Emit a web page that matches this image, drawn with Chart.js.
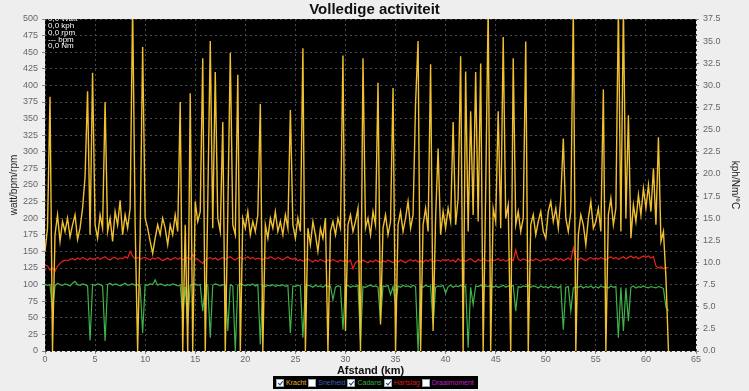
<!DOCTYPE html>
<html>
<head>
<meta charset="utf-8">
<script src="https://cdn.jsdelivr.net/npm/chart.js@4.4.1/dist/chart.umd.min.js"></script>
<style>
  html, body { margin:0; padding:0; background:#eeeeee; }
  #wrap { position:relative; width:749px; height:391px; }
  #legend {
    position:absolute; left:273px; top:376px; height:13px; width:205px; box-sizing:border-box;
    background:#000; display:flex; align-items:center; padding:0 1px;
    font-family:"Liberation Sans", Arial, sans-serif; font-size:7px; white-space:nowrap; overflow:hidden;
  }
  #legend .box {
    display:inline-block; width:8px; height:8px; background:#fff; margin:0 2px 0 2px;
    position:relative; box-sizing:border-box; border:1px solid #9aa; flex:none;
  }
  #legend .box.on::after {
    content:''; position:absolute; left:2px; top:0px; width:2px; height:4px;
    border:solid #1c3f9a; border-width:0 1.5px 1.5px 0; transform:rotate(40deg);
  }
</style>
</head>
<body>
<div id="wrap">
  <canvas id="chart" width="749" height="391"></canvas>
  <div id="legend">
    <span class="box on"></span><span style="color:#e8b030">Kracht</span>
    <span class="box"></span><span style="color:#3a64b8">Snelheid</span>
    <span class="box on"></span><span style="color:#3cb043">Cadans</span>
    <span class="box on"></span><span style="color:#d81e1e">Hartslag</span>
    <span class="box"></span><span style="color:#c020c8">Draaimoment</span>
  </div>
</div>
<script>
// ---------------------------------------------------------------
// Samples every 0.25 km. Values in watt / bpm / rpm.
// ---------------------------------------------------------------
const sampleStepKm = 0.25;

const powerWatt = [
  150,185,383,0,175,205,165,195,180,200,172,190,205,168,185,215,262,391,175,419,
  190,170,205,185,375,180,200,165,210,190,227,175,205,185,215,520,190,0,175,458,
  200,185,165,147,170,190,175,200,185,160,190,175,205,180,375,0,190,0,388,0,
  225,195,210,441,0,220,467,185,420,200,180,345,0,205,449,190,175,416,0,200,
  185,210,175,195,180,205,372,0,190,170,200,185,210,180,195,175,205,185,363,190,
  170,200,180,456,0,185,160,195,175,150,185,170,200,0,180,195,175,200,185,445,
  30,190,205,180,195,215,0,441,185,200,175,210,190,404,40,185,205,175,195,396,
  0,190,210,180,200,225,185,205,373,467,0,190,215,180,432,30,200,305,175,210,
  185,215,195,345,190,230,444,0,421,180,361,205,420,195,433,0,240,520,0,215,
  195,361,185,473,200,220,0,441,190,210,180,200,466,0,190,205,175,195,210,180,
  170,210,225,195,215,185,230,320,200,180,210,520,0,175,205,190,160,200,225,185,
  195,215,180,394,0,205,230,190,215,520,180,520,200,355,170,220,195,235,205,245,
  215,250,210,275,190,322,165,180,110,0
];

const heartBpm = [
  130,128,122,125,120,128,132,135,137,136,138,139,137,140,138,141,139,137,140,138,
  139,141,138,140,142,139,137,140,141,138,140,139,142,140,150,143,139,141,138,140,
  141,139,137,140,138,141,139,136,138,140,137,139,141,138,140,137,139,141,138,145,
  140,138,135,132,137,139,141,138,140,137,139,141,138,140,142,139,137,140,141,138,
  140,142,139,141,138,140,139,137,141,139,142,140,138,141,139,137,140,142,139,138,
  140,136,138,135,137,139,136,134,137,135,138,136,134,137,135,138,136,134,137,135,
  136,134,137,124,133,136,134,137,135,133,136,134,137,135,133,136,134,137,135,133,
  136,134,137,135,133,136,138,135,137,134,136,133,137,135,138,134,136,137,135,138,
  136,138,135,137,134,139,136,138,135,137,139,136,134,138,136,139,137,135,138,136,
  137,139,136,138,135,137,139,136,152,138,136,139,137,135,138,136,139,137,135,138,
  137,139,136,138,140,137,139,136,138,140,137,155,139,137,140,138,136,139,141,138,
  140,138,141,139,137,140,142,139,141,138,140,142,139,141,143,140,142,139,141,143,
  141,143,140,142,128,125,127,124,126,125
];

const cadenceRpm = [
  101,99,100,62,98,102,100,99,101,100,98,102,105,100,99,101,100,98,16,100,
  99,101,100,98,15,100,102,99,101,100,98,100,102,99,100,101,99,100,98,27,
  100,99,101,100,107,99,101,100,98,100,99,101,100,98,100,55,97,40,99,100,
  101,99,100,60,98,100,20,99,101,100,98,100,99,30,100,98,0,99,101,100,
  98,100,99,101,98,100,10,99,97,99,98,100,97,99,98,100,97,99,27,98,
  97,99,98,20,97,99,98,96,99,97,98,96,99,97,98,77,96,98,97,32,
  97,99,96,98,97,99,15,97,96,98,99,97,98,96,45,98,97,99,85,97,
  70,98,96,99,97,98,96,99,97,0,98,96,99,97,98,40,96,98,97,99,
  87,97,99,96,98,97,99,96,98,5,96,70,98,97,99,96,98,97,99,96,
  98,96,97,99,96,98,97,99,60,97,96,98,97,99,96,98,97,95,98,96,
  97,95,98,96,97,95,98,32,96,97,60,95,97,96,98,95,97,96,98,95,
  97,95,98,96,97,95,98,96,97,20,96,30,95,45,96,98,95,97,96,98,
  96,95,97,96,95,97,96,94,66,60
];

const readoutLines = ['0,0 Watt', '0,0 kph', '0,0 rpm', '--- bpm', '0,0 Nm'];

// ---------------------------------------------------------------
const FONT = '"Liberation Sans", Arial, sans-serif';
const toPoints = vals => vals.map((v, i) => ({ x: i * sampleStepKm, y: v }));

const plotBackground = {
  id: 'plotBackground',
  beforeDraw(chart) {
    const { ctx, chartArea: a } = chart;
    ctx.save();
    ctx.fillStyle = '#000';
    ctx.fillRect(a.left, a.top, a.right - a.left, a.bottom - a.top);
    ctx.restore();
  }
};

const readout = {
  id: 'readout',
  afterDatasetsDraw(chart) {
    const { ctx, chartArea: a } = chart;
    ctx.save();
    ctx.beginPath();
    ctx.rect(a.left, a.top, a.right - a.left, a.bottom - a.top);
    ctx.clip();
    ctx.fillStyle = '#fff';
    ctx.font = '8px ' + FONT;
    ctx.textBaseline = 'middle';
    readoutLines.forEach((t, i) => ctx.fillText(t, a.left + 3, a.top + i * 6.8));
    ctx.restore();
  }
};

const tickFont = { family: FONT, size: 9 };
const gridStyle = { color: '#4a4a4a', lineWidth: 1, tickLength: 3, tickColor: '#888' };

new Chart(document.getElementById('chart'), {
  type: 'line',
  data: {
    datasets: [
      { label: 'Kracht', data: toPoints(powerWatt), borderColor: '#f0c030', borderWidth: 1.4, pointRadius: 0, tension: 0, yAxisID: 'y' },
      { label: 'Hartslag', data: toPoints(heartBpm), borderColor: '#e8231c', borderWidth: 1.2, pointRadius: 0, tension: 0, yAxisID: 'y' },
      { label: 'Cadans', data: toPoints(cadenceRpm), borderColor: '#3db34a', borderWidth: 1.2, pointRadius: 0, tension: 0, yAxisID: 'y' }
    ]
  },
  options: {
    responsive: false,
    animation: false,
    layout: { padding: { left: 0, right: 0, top: 1, bottom: 13 } },
    plugins: {
      legend: { display: false },
      tooltip: { enabled: false },
      title: {
        display: true, text: 'Volledige activiteit', color: '#111',
        font: { family: FONT, size: 15, weight: 'bold' }, padding: { top: 0, bottom: 0 }
      }
    },
    scales: {
      x: {
        type: 'linear', min: 0, max: 65,
        ticks: { stepSize: 5, color: '#666', font: tickFont, padding: 0, maxRotation: 0 },
        grid: gridStyle,
        border: { display: false, dash: [2, 3] },
        title: { display: true, text: 'Afstand (km)', color: '#111', font: { family: FONT, size: 11, weight: 'bold' }, padding: 0 },
        afterFit(s) { s.height = 27; }
      },
      y: {
        position: 'left', min: 0, max: 500,
        ticks: { stepSize: 25, color: '#666', font: tickFont, padding: 4 },
        grid: gridStyle,
        border: { display: false, dash: [2, 3] },
        title: { display: true, text: 'watt/bpm/rpm', color: '#222', font: { family: FONT, size: 10 }, padding: { top: 8, bottom: 0 } },
        afterFit(s) { s.width = 45; }
      },
      y2: {
        position: 'right', min: 0, max: 37.5,
        ticks: { stepSize: 2.5, color: '#666', font: tickFont, padding: 4, callback: v => v.toFixed(1) },
        grid: { drawOnChartArea: false, tickLength: 3, tickColor: '#888' },
        border: { display: false },
        title: { display: true, text: 'kph/Nm/°C', color: '#222', font: { family: FONT, size: 10 }, padding: { top: 8, bottom: 0 } },
        afterFit(s) { s.width = 53; }
      }
    }
  },
  plugins: [plotBackground, readout]
});
</script>
</body>
</html>
